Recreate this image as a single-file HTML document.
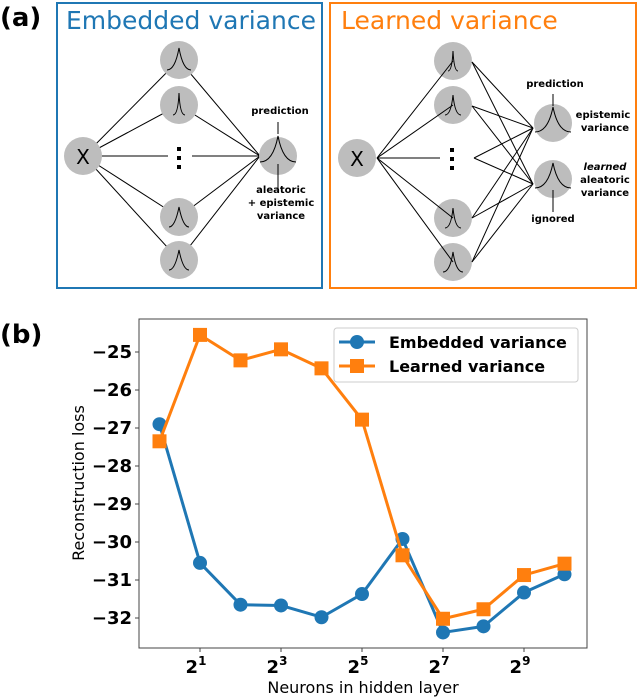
<!DOCTYPE html>
<html><head><meta charset="utf-8"><style>
body{margin:0;background:#fff;width:640px;height:698px;overflow:hidden;font-family:"Liberation Sans","DejaVu Sans",sans-serif}
svg{position:absolute;left:0;top:0}
</style></head><body>
<svg width="640" height="698">
<g font-family="DejaVu Sans, sans-serif">
<text x="0" y="26" font-size="26" font-weight="bold">(a)</text>
<rect x="57" y="3" width="265" height="285" fill="none" stroke="#1f77b4" stroke-width="2"/>
<text x="66" y="29" font-size="25" fill="#1f77b4">Embedded variance</text>
<rect x="330" y="3" width="306" height="285" fill="none" stroke="#ff7f0e" stroke-width="2"/>
<text x="341" y="29" font-size="25" fill="#ff7f0e">Learned variance</text>
<g stroke="#000" stroke-width="1">
<line x1="84" y1="156" x2="179" y2="60"/><line x1="84" y1="156" x2="179" y2="105"/><line x1="84" y1="156" x2="168" y2="156"/><line x1="84" y1="156" x2="179" y2="217"/><line x1="84" y1="156" x2="179" y2="260"/>
<line x1="179" y1="60" x2="260" y2="156"/><line x1="179" y1="105" x2="260" y2="156"/><line x1="192" y1="156" x2="260" y2="156"/><line x1="179" y1="217" x2="260" y2="156"/><line x1="179" y1="260" x2="260" y2="156"/>
</g>
<g fill="#bdbdbd">
<circle cx="83" cy="156" r="19"/><circle cx="179" cy="60" r="19"/><circle cx="179" cy="105" r="19"/><circle cx="179" cy="217" r="19"/><circle cx="179" cy="260" r="19"/><circle cx="278" cy="156" r="19"/>
<circle cx="357" cy="158" r="19"/><circle cx="453" cy="61" r="19"/><circle cx="453" cy="105" r="19"/><circle cx="453" cy="218" r="19"/><circle cx="453" cy="262" r="19"/><circle cx="553" cy="123" r="19"/><circle cx="553" cy="179" r="19"/>
</g>
<g stroke="#000" stroke-width="1">
<line x1="377" y1="158" x2="453" y2="61"/><line x1="377" y1="158" x2="453" y2="105"/><line x1="377" y1="158" x2="440" y2="158"/><line x1="377" y1="158" x2="453" y2="218"/><line x1="377" y1="158" x2="453" y2="262"/>
<line x1="472" y1="62" x2="533" y2="128"/><line x1="472" y1="62" x2="533" y2="184"/><line x1="472" y1="106" x2="533" y2="128"/><line x1="472" y1="106" x2="533" y2="184"/><line x1="474" y1="158" x2="533" y2="128"/><line x1="474" y1="158" x2="533" y2="184"/><line x1="472" y1="218" x2="533" y2="128"/><line x1="472" y1="218" x2="533" y2="184"/><line x1="472" y1="262" x2="533" y2="128"/><line x1="472" y1="262" x2="533" y2="184"/>
</g>
<g fill="#000"><rect x="177" y="147" width="4" height="4"/><rect x="177" y="156" width="4" height="4"/><rect x="177" y="165" width="4" height="4"/><rect x="450" y="148" width="4" height="4"/><rect x="450" y="157" width="4" height="4"/><rect x="450" y="166" width="4" height="4"/></g>
<text x="83" y="164" font-size="20" text-anchor="middle">X</text><text x="357" y="166" font-size="20" text-anchor="middle">X</text>
<g fill="none" stroke="#000" stroke-width="1">
<path d="M167 70 Q175 70 179 48 Q183 70 191 70"/><path d="M173 115 Q178 115 179 93 Q180 115 185 115"/><path d="M169 227 Q175 227 179 207 Q183 227 189 227"/><path d="M169 270 Q175 270 179 250 Q183 270 189 270"/>
<path d="M260 162 Q273 162 278 136 Q283 162 296 162"/>
<path d="M448 71 Q452 71 453 51 Q454 71 458 71"/><path d="M445 115 Q451 115 453 95 Q455 115 461 115"/><path d="M445 228 Q451 228 453 208 Q455 228 461 228"/><path d="M443 272 Q450 272 453 252 Q456 272 463 272"/>
<path d="M535 132 Q548 132 553 107 Q558 132 571 132"/><path d="M535 188 Q548 188 553 163 Q558 188 571 188"/>
<line x1="278" y1="122" x2="278" y2="134"/><line x1="278" y1="190" x2="278" y2="164"/><line x1="553" y1="94" x2="553" y2="106"/><line x1="553" y1="212" x2="553" y2="190"/>
</g>
<g font-size="10" font-weight="bold" text-anchor="middle">
<text x="280" y="114">prediction</text><text x="281" y="193">aleatoric</text><text x="281" y="206">+ epistemic</text><text x="281" y="219">variance</text>
<text x="555" y="87">prediction</text><text x="603" y="118">epistemic</text><text x="605" y="131">variance</text>
<text x="605" y="170" font-style="italic">learned</text><text x="605" y="183">aleatoric</text><text x="605" y="196">variance</text><text x="553" y="222">ignored</text>
</g>
</g>
<g>
<text x="0" y="343" font-size="26" font-weight="bold" font-family="DejaVu Sans, sans-serif">(b)</text>
<rect x="139" y="319" width="448" height="329" fill="none" stroke="#444" stroke-width="1"/>
<g id="yt"></g><g id="xt"></g><g id="series"></g>
<text x="84" y="483" font-size="16" transform="rotate(-90 84 483)" text-anchor="middle" font-family="DejaVu Sans, sans-serif">Reconstruction loss</text>
<text x="363" y="693" font-size="16" text-anchor="middle" font-family="DejaVu Sans, sans-serif">Neurons in hidden layer</text>
<g>
<rect x="334" y="328" width="244" height="54" rx="3" fill="#fff" stroke="#ccc"/>
<line x1="339" y1="342" x2="375" y2="342" stroke="#1f77b4" stroke-width="3"/><circle cx="357" cy="342" r="7" fill="#1f77b4"/>
<text x="389" y="348" font-size="16" font-weight="bold" font-family="DejaVu Sans, sans-serif">Embedded variance</text>
<line x1="339" y1="366" x2="375" y2="366" stroke="#ff7f0e" stroke-width="3"/><rect x="350" y="359" width="14" height="14" fill="#ff7f0e"/>
<text x="389" y="372" font-size="16" font-weight="bold" font-family="DejaVu Sans, sans-serif">Learned variance</text>
</g>
</g>
</svg>
<script>
const exponents=[0,1,2,3,4,5,6,7,8,9,10];
const embedded=[-26.9,-30.55,-31.65,-31.67,-31.98,-31.37,-29.92,-32.38,-32.22,-31.33,-30.85];
const learned=[-27.35,-24.55,-25.22,-24.93,-25.43,-26.78,-30.35,-32.02,-31.77,-30.87,-30.57];
const yTicks=[-25,-26,-27,-28,-29,-30,-31,-32];
const xTicks=[1,3,5,7,9];
const NS='http://www.w3.org/2000/svg';
const X=e=>159.5+40.5*e, Y=v=>352+(-25-v)*38;
function mk(t,a,p){const e=document.createElementNS(NS,t);for(const k in a)e.setAttribute(k,a[k]);p.appendChild(e);return e;}
const yt=document.getElementById('yt'),xt=document.getElementById('xt'),S=document.getElementById('series');
yTicks.forEach(v=>{mk('line',{x1:135,x2:139,y1:Y(v),y2:Y(v),stroke:'#444'},yt);
const t=mk('text',{x:132,y:Y(v)+6,'font-size':18,'font-weight':'bold','text-anchor':'end','font-family':'DejaVu Sans, sans-serif'},yt);


t.textContent='\u2212'+Math.abs(v);});
xTicks.forEach(e=>{mk('line',{x1:X(e),x2:X(e),y1:648,y2:652,stroke:'#444'},xt);
const t=mk('text',{x:X(e)-4,y:673,'font-size':18,'font-weight':'bold','text-anchor':'middle','font-family':'DejaVu Sans, sans-serif'},xt);


t.innerHTML='2<tspan dy="-8" font-size="12">'+e+'</tspan>';});
function draw(vals,col,sq,name){
const p=mk('polyline',{points:vals.map((v,i)=>X(exponents[i])+','+Y(v)).join(' '),fill:'none',stroke:col,'stroke-width':3,'stroke-linejoin':'round'},S);


vals.forEach((v,i)=>{let m;
if(sq)m=mk('rect',{x:X(exponents[i])-7,y:Y(v)-7,width:14,height:14,fill:col},S);
else m=mk('circle',{cx:X(exponents[i]),cy:Y(v),r:7,fill:col},S);

});}
draw(embedded,'#1f77b4',false,'embedded');
draw(learned,'#ff7f0e',true,'learned');
</script>
</body></html>
